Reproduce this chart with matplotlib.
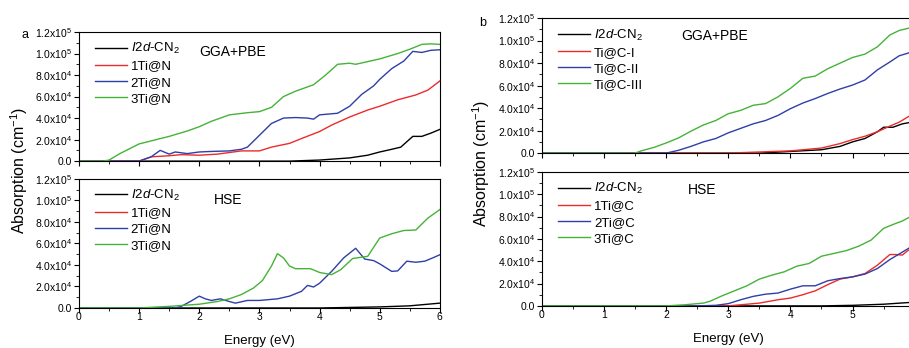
import matplotlib
matplotlib.use("Agg")
import matplotlib.pyplot as plt
from matplotlib import ticker

plt.rcParams['font.family'] = ['Liberation Sans', 'DejaVu Sans']
plt.rcParams['mathtext.fontset'] = 'custom'
plt.rcParams['mathtext.rm'] = 'Liberation Sans'
plt.rcParams['mathtext.it'] = 'Liberation Sans:italic'

# ---- panel a, GGA+PBE ----
a_gga_x_pure = [0, 3.5, 4.0, 4.5, 4.8, 5.0, 5.2, 5.35, 5.55, 5.7, 5.85, 6.0]
a_gga_pure = [0, 0, 0.1, 0.3, 0.55, 0.85, 1.1, 1.3, 2.3, 2.3, 2.6, 2.95]
a_gga_x_1 = [0, 1.0, 1.2, 1.5, 1.7, 2.0, 2.3, 2.5, 2.7, 3.0, 3.2, 3.5, 3.7, 4.0, 4.2, 4.5, 4.8, 5.0, 5.3, 5.6, 5.8, 6.0]
a_gga_1 = [0, 0, 0.4, 0.5, 0.6, 0.55, 0.65, 0.8, 0.95, 0.95, 1.3, 1.65, 2.1, 2.75, 3.35, 4.1, 4.75, 5.1, 5.7, 6.15, 6.6, 7.45]
a_gga_x_2 = [0, 1.0, 1.2, 1.35, 1.5, 1.6, 1.8, 2.0, 2.2, 2.5, 2.7, 2.8, 3.0, 3.2, 3.4, 3.6, 3.8, 3.9, 4.0, 4.3, 4.5, 4.7, 4.9, 5.0, 5.2, 5.4, 5.55, 5.7, 5.85, 6.0]
a_gga_2 = [0, 0, 0.4, 1.0, 0.65, 0.85, 0.7, 0.85, 0.9, 0.95, 1.1, 1.3, 2.4, 3.5, 4.0, 4.05, 4.0, 3.9, 4.3, 4.45, 5.1, 6.2, 7.0, 7.6, 8.6, 9.3, 10.2, 10.1, 10.3, 10.35]
a_gga_x_3 = [0, 0.4, 0.5, 0.68, 1.0, 1.5, 1.8, 2.0, 2.2, 2.5, 2.8, 3.0, 3.2, 3.4, 3.6, 3.9, 4.1, 4.3, 4.5, 4.6, 5.0, 5.3, 5.5, 5.7, 5.85, 6.0]
a_gga_3 = [0, 0, 0.1, 0.7, 1.6, 2.3, 2.8, 3.2, 3.7, 4.3, 4.5, 4.6, 5.0, 6.0, 6.5, 7.1, 8.0, 9.0, 9.1, 9.0, 9.5, 10.0, 10.4, 10.85, 10.9, 10.85]

# ---- panel a, HSE (no 1Ti@N curve visible) ----
a_hse_x_pure = [0, 4.0, 5.0, 5.5, 6.0]
a_hse_pure = [0, 0, 0.1, 0.2, 0.45]
a_hse_x_2 = [0, 1.6, 1.7, 1.85, 2.0, 2.1, 2.2, 2.35, 2.5, 2.6, 2.8, 3.0, 3.3, 3.5, 3.7, 3.8, 3.9, 4.0, 4.2, 4.4, 4.6, 4.75, 4.9, 5.0, 5.2, 5.3, 5.45, 5.6, 5.75, 5.9, 6.0]
a_hse_2 = [0, 0, 0.15, 0.6, 1.1, 0.85, 0.7, 0.85, 0.6, 0.45, 0.7, 0.7, 0.85, 1.1, 1.55, 2.1, 1.95, 2.3, 3.4, 4.65, 5.55, 4.55, 4.4, 4.1, 3.4, 3.45, 4.35, 4.25, 4.35, 4.7, 4.95]
a_hse_x_3 = [0, 1.0, 1.5, 2.0, 2.3, 2.5, 2.7, 2.9, 3.05, 3.2, 3.3, 3.4, 3.5, 3.6, 3.85, 4.0, 4.2, 4.35, 4.55, 4.8, 5.0, 5.2, 5.4, 5.6, 5.8, 6.0]
a_hse_3 = [0, 0, 0.15, 0.35, 0.6, 0.85, 1.25, 1.85, 2.55, 3.9, 5.05, 4.65, 3.9, 3.65, 3.65, 3.3, 3.1, 3.55, 4.6, 4.8, 6.5, 6.9, 7.2, 7.25, 8.35, 9.15]

# ---- panel b, GGA+PBE ----
b_gga_x_pure = [0, 3.5, 4.5, 4.8, 5.0, 5.2, 5.4, 5.5, 5.65, 5.8, 5.9, 6.0]
b_gga_pure = [0, 0, 0.3, 0.6, 1.0, 1.3, 1.9, 2.3, 2.3, 2.6, 2.7, 2.8]
b_gga_x_1 = [0, 3.0, 3.5, 4.0, 4.5, 4.8, 5.0, 5.2, 5.4, 5.6, 5.75, 5.9, 6.0]
b_gga_1 = [0, 0, 0.1, 0.2, 0.45, 0.85, 1.2, 1.5, 1.9, 2.4, 2.75, 3.25, 3.5]
b_gga_x_2 = [0, 2.0, 2.2, 2.4, 2.6, 2.8, 3.0, 3.2, 3.4, 3.6, 3.8, 4.0, 4.2, 4.4, 4.6, 4.8, 5.0, 5.2, 5.4, 5.6, 5.75, 5.9, 6.0]
b_gga_2 = [0, 0, 0.25, 0.6, 1.0, 1.3, 1.8, 2.2, 2.6, 2.9, 3.35, 3.95, 4.45, 4.85, 5.3, 5.7, 6.05, 6.5, 7.4, 8.1, 8.65, 8.9, 9.1]
b_gga_x_3 = [0, 1.5, 1.6, 1.8, 2.0, 2.2, 2.4, 2.6, 2.8, 3.0, 3.2, 3.4, 3.6, 3.8, 4.0, 4.2, 4.4, 4.6, 4.8, 5.0, 5.2, 5.4, 5.6, 5.75, 5.9, 6.0]
b_gga_3 = [0, 0, 0.2, 0.5, 0.9, 1.35, 1.95, 2.5, 2.9, 3.5, 3.8, 4.25, 4.4, 5.0, 5.75, 6.65, 6.85, 7.5, 8.0, 8.5, 8.8, 9.45, 10.5, 10.9, 11.1, 11.2]

# ---- panel b, HSE ----
b_hse_x_pure = [0, 4.5, 5.0, 5.5, 5.9, 6.0]
b_hse_pure = [0, 0, 0.05, 0.15, 0.3, 0.35]
b_hse_x_1 = [0, 3.0, 3.2, 3.5, 3.8, 4.0, 4.2, 4.4, 4.6, 4.8, 5.0, 5.2, 5.4, 5.6, 5.7, 5.8, 5.9, 6.0]
b_hse_1 = [0, 0, 0.1, 0.25, 0.55, 0.7, 1.0, 1.35, 1.9, 2.4, 2.6, 2.9, 3.65, 4.6, 4.6, 4.55, 5.0, 5.3]
b_hse_x_2 = [0, 2.5, 2.8, 3.0, 3.2, 3.4, 3.6, 3.8, 4.0, 4.2, 4.4, 4.6, 4.8, 5.0, 5.2, 5.4, 5.6, 5.75, 5.9, 6.0]
b_hse_2 = [0, 0, 0.05, 0.2, 0.55, 0.85, 1.05, 1.15, 1.5, 1.8, 1.8, 2.25, 2.45, 2.6, 2.85, 3.35, 4.15, 4.65, 5.15, 5.5]
b_hse_x_3 = [0, 2.0, 2.3, 2.6, 2.7, 2.9, 3.1, 3.3, 3.5, 3.7, 3.9, 4.1, 4.3, 4.5, 4.7, 4.9, 5.1, 5.3, 5.5, 5.7, 5.8, 5.9, 6.0]
b_hse_3 = [0, 0, 0.1, 0.25, 0.4, 0.9, 1.35, 1.8, 2.4, 2.75, 3.05, 3.55, 3.8, 4.45, 4.7, 4.95, 5.35, 5.9, 6.95, 7.4, 7.6, 7.9, 8.2]

pure_label = r'$\it{I2d}$-CN$_2$'
colors = ['black', '#ec2b2b', '#2f3fa6', '#45b337']
SCALE = 1e4


def fmt_y(v, pos):
    if v == 0:
        return '0.0'
    e = 5 if v >= 1e5 - 1 else 4
    return r'%.1fx10$^{%d}$' % (v / 10 ** e, e)


def style_axes(ax, show_xlabels, last_xlabel=True):
    ax.set_xlim(0, 6)
    ax.set_ylim(0, 1.2e5)
    ax.xaxis.set_major_locator(ticker.MultipleLocator(1))
    ax.xaxis.set_minor_locator(ticker.MultipleLocator(0.5))
    if not last_xlabel:
        # the right edge of panel b is cropped in the original
        ax.xaxis.set_major_formatter(ticker.FuncFormatter(
            lambda v, p: '' if v > 5.5 else '%d' % v))
    ax.yaxis.set_major_locator(ticker.MultipleLocator(2e4))
    ax.yaxis.set_minor_locator(ticker.MultipleLocator(1e4))
    ax.yaxis.set_major_formatter(ticker.FuncFormatter(fmt_y))
    ax.tick_params(which='both', direction='out', labelsize=7.5, pad=1.5)
    ax.tick_params(axis='x', pad=-0.5)
    ax.tick_params(which='major', length=3.5)
    ax.tick_params(which='minor', length=2)
    if not show_xlabels:
        ax.tick_params(axis='x', labelbottom=False)
    for s in ax.spines.values():
        s.set_linewidth(0.8)


def draw(ax, curves, labels, method, text_x, text_y):
    for (xs, ys), lab, c in zip(curves, labels, colors):
        if xs is None:
            ax.plot([], [], color=c, lw=1, label=lab)
        else:
            ax.plot(xs, [v * SCALE for v in ys], color=c, lw=1, label=lab)
    ax.legend(loc='upper left', bbox_to_anchor=(0.03, 0.97), frameon=False,
              fontsize=9.5, handlelength=2.4, labelspacing=0.3,
              handletextpad=0.3, borderaxespad=0)
    ax.text(text_x, text_y, method, fontsize=10, va='center')


fig = plt.figure(figsize=(9.09, 3.48), dpi=100)

ax_a1 = fig.add_axes([0.0869, 0.537, 0.397, 0.371])
ax_a2 = fig.add_axes([0.0869, 0.115, 0.397, 0.371])
ax_b1 = fig.add_axes([0.596, 0.560, 0.4103, 0.388])
ax_b2 = fig.add_axes([0.596, 0.121, 0.4103, 0.385])

draw(ax_a1, [(a_gga_x_pure, a_gga_pure), (a_gga_x_1, a_gga_1), (a_gga_x_2, a_gga_2), (a_gga_x_3, a_gga_3)],
     [pure_label, '1Ti@N', '2Ti@N', '3Ti@N'], 'GGA+PBE', 2.0, 1.01e5)
draw(ax_a2, [(a_hse_x_pure, a_hse_pure), (None, None), (a_hse_x_2, a_hse_2), (a_hse_x_3, a_hse_3)],
     [pure_label, '1Ti@N', '2Ti@N', '3Ti@N'], 'HSE', 2.25, 1.0e5)
draw(ax_b1, [(b_gga_x_pure, b_gga_pure), (b_gga_x_1, b_gga_1), (b_gga_x_2, b_gga_2), (b_gga_x_3, b_gga_3)],
     [pure_label, 'Ti@C-I', 'Ti@C-II', 'Ti@C-III'], 'GGA+PBE', 2.25, 1.04e5)
draw(ax_b2, [(b_hse_x_pure, b_hse_pure), (b_hse_x_1, b_hse_1), (b_hse_x_2, b_hse_2), (b_hse_x_3, b_hse_3)],
     [pure_label, '1Ti@C', '2Ti@C', '3Ti@C'], 'HSE', 2.35, 1.04e5)

style_axes(ax_a1, False)
style_axes(ax_a2, True)
style_axes(ax_b1, False)
style_axes(ax_b2, True, last_xlabel=False)
ax_a2.set_xlabel('Energy (eV)', fontsize=9.5, labelpad=9)
ax_b2.set_xlabel('Energy (eV)', fontsize=9.5, labelpad=9)

fig.text(0.021, 0.51, r'Absorption (cm$^{-1}$)', rotation=90, ha='center', va='center', fontsize=11.5)
fig.text(0.529, 0.53, r'Absorption (cm$^{-1}$)', rotation=90, ha='center', va='center', fontsize=11.5)
fig.text(0.027, 0.90, 'a', fontsize=9, ha='center', va='center')
fig.text(0.531, 0.935, 'b', fontsize=9, ha='center', va='center')

fig.savefig('out.png', dpi=100)
